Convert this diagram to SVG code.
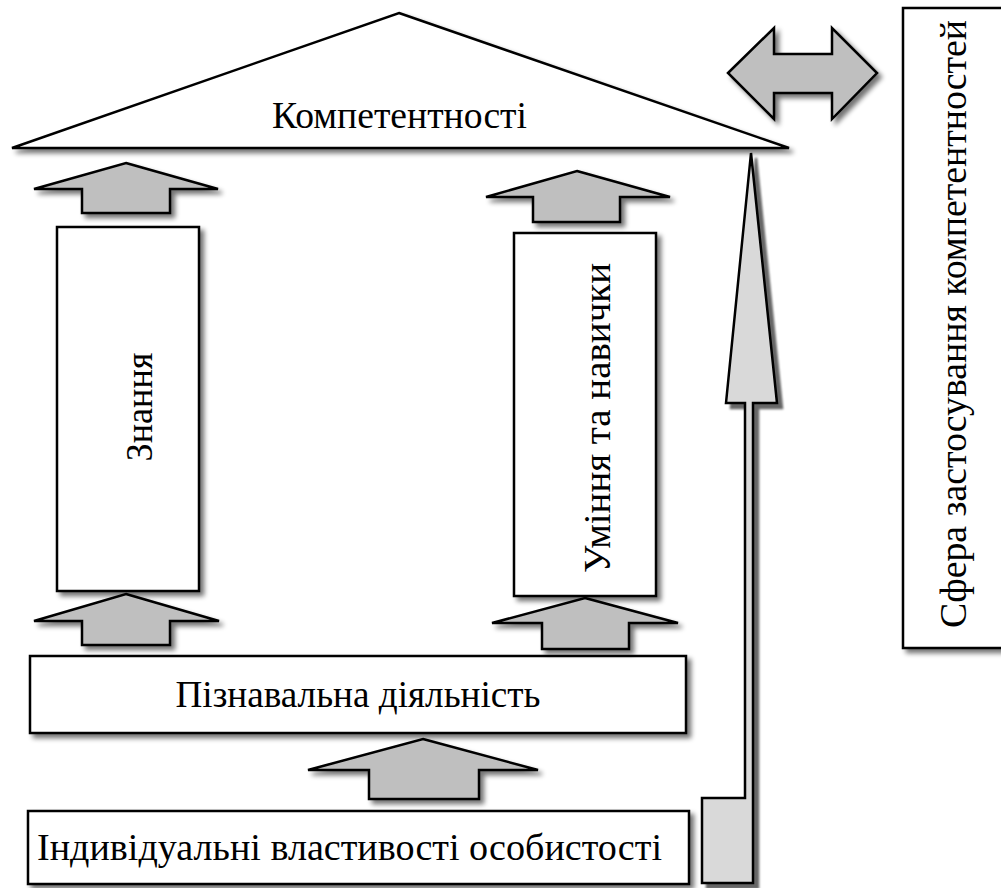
<svg xmlns="http://www.w3.org/2000/svg" width="1001" height="888" viewBox="0 0 1001 888">
<style>
.box{fill:#fff;stroke:#000;stroke-width:2.5}
.blk{fill:#bfbfbf;stroke:#000;stroke-width:2.5;stroke-linejoin:miter}
.tall{fill:#d9d9d9;stroke:#000;stroke-width:2.5}
.t{font-family:'Liberation Serif','Times New Roman',serif;font-size:37px;fill:#000}
</style>
<defs>
<filter id="sh" x="-20%" y="-20%" width="140%" height="140%">
<feGaussianBlur in="SourceAlpha" stdDeviation="2.5"/>
<feOffset dx="4" dy="4"/>
<feComponentTransfer><feFuncA type="linear" slope="0.55"/></feComponentTransfer>
<feMerge><feMergeNode/><feMergeNode in="SourceGraphic"/></feMerge>
</filter>
<filter id="sh2" x="-50%" y="-5%" width="200%" height="110%">
<feGaussianBlur in="SourceAlpha" stdDeviation="1"/>
<feOffset dx="5" dy="5"/>
<feComponentTransfer><feFuncA type="linear" slope="0.6"/></feComponentTransfer>
<feMerge><feMergeNode/><feMergeNode in="SourceGraphic"/></feMerge>
</filter>
</defs>
<rect width="1001" height="888" fill="#fff"/>

<g id="competence">
<polygon class="box" filter="url(#sh)" points="399,13 789,148 12,148"/>
<text class="t" x="399.5" y="128" text-anchor="middle" textLength="255" lengthAdjust="spacingAndGlyphs">Компетентності</text>
</g>

<g id="sphere">
<rect class="box" filter="url(#sh)" x="903" y="8" width="110" height="640"/>
<text class="t" transform="translate(966,324) rotate(-90)" text-anchor="middle" textLength="608" lengthAdjust="spacingAndGlyphs">Сфера застосування компетентностей</text>
</g>

<g id="knowledge">
<rect class="box" filter="url(#sh)" x="57" y="227" width="142" height="364"/>
<text class="t" transform="translate(152,407) rotate(-90)" text-anchor="middle" textLength="109" lengthAdjust="spacingAndGlyphs">Знання</text>
</g>

<g id="skills">
<rect class="box" filter="url(#sh)" x="514" y="233" width="142" height="363"/>
<text class="t" transform="translate(610,418) rotate(-90)" text-anchor="middle" textLength="310" lengthAdjust="spacingAndGlyphs">Уміння та навички</text>
</g>

<g id="cognitive">
<rect class="box" filter="url(#sh)" x="30" y="656" width="656" height="77"/>
<text class="t" x="358" y="707" text-anchor="middle" textLength="365" lengthAdjust="spacingAndGlyphs">Пізнавальна діяльність</text>
</g>

<g id="individual">
<rect class="box" filter="url(#sh)" x="28" y="811" width="661" height="73"/>
<text class="t" x="349.5" y="860" text-anchor="middle" textLength="625" lengthAdjust="spacingAndGlyphs">Індивідуальні властивості особистості</text>
</g>

<g id="connectors">
<polygon class="blk" filter="url(#sh)" points="126,163 218,189 170,189 170,213 82,213 82,189 34,189"/>
<polygon class="blk" filter="url(#sh)" points="577,171 670,197 620,197 620,222 533,222 533,197 486,197"/>
<polygon class="blk" filter="url(#sh)" points="126,594 219,621 170,621 170,645 82,645 82,621 34,621"/>
<polygon class="blk" filter="url(#sh)" points="585,598 678,623 629,623 629,649 542,649 542,623 492,623"/>
<polygon class="blk" filter="url(#sh)" points="423,739 538,770 479,770 479,799 369,799 369,770 308,770"/>
<polygon class="blk" filter="url(#sh)" points="728,73 774,28 774,54 832,54 832,28 877,73 832,119 832,93 774,93 774,119"/>
<polygon class="tall" filter="url(#sh2)" points="751,153 777,403 753,403 753,883 702,883 702,798 745,798 745,403 726,403"/>
</g>
</svg>
